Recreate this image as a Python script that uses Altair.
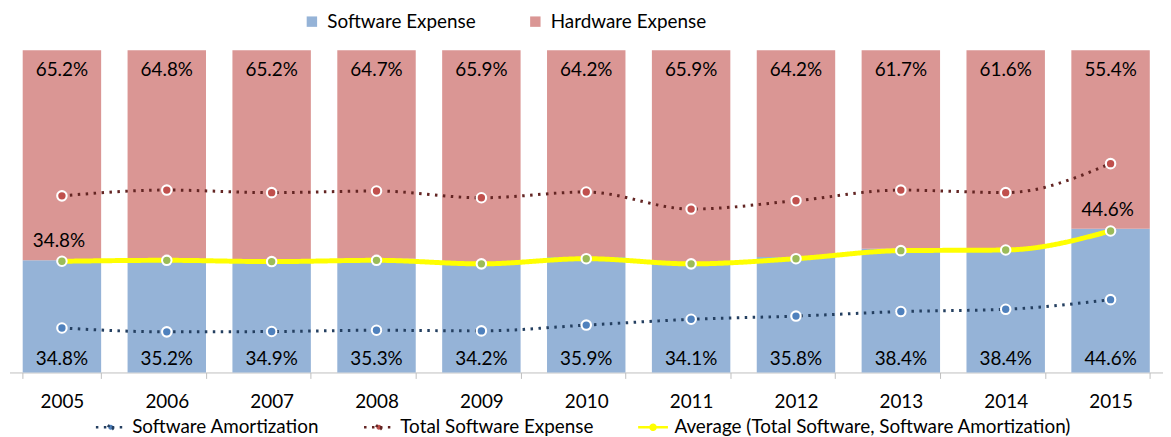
import altair as alt
import pandas as pd

# ---------------- data ----------------
years = [2005, 2006, 2007, 2008, 2009, 2010, 2011, 2012, 2013, 2014, 2015]
software_pct = [34.8, 35.2, 34.9, 35.3, 34.2, 35.9, 34.1, 35.8, 38.4, 38.4, 44.6]
hardware_pct = [65.2, 64.8, 65.2, 64.7, 65.9, 64.2, 65.9, 64.2, 61.7, 61.6, 55.4]

software_amortization = [0.138, 0.126, 0.127, 0.131, 0.129, 0.147, 0.165, 0.175, 0.189, 0.196, 0.226]
total_software_expense = [0.548, 0.566, 0.558, 0.563, 0.542, 0.560, 0.507, 0.533, 0.566, 0.558, 0.648]
average_series = [0.345, 0.348, 0.344, 0.348, 0.337, 0.353, 0.337, 0.353, 0.378, 0.380, 0.439]

highlight_years = [2005, 2015]

parts = ["Software Expense", "Hardware Expense"]
series = ["Software Amortization", "Total Software Expense",
          "Average (Total Software, Software Amortization)"]

SW_COLOR = "#95b3d7"
HW_COLOR = "#da9694"
LINE_COLORS = ["#243f60", "#632523", "#ffff00"]
POINT_COLORS = ["#4f81bd", "#c0504d", "#9bbb59"]
LINE_DASHES = [[2.5, 5.5], [2.5, 5.5], [1, 0]]
FONT = "Lato"
FS = 19

# ---------------- tables ----------------
bar_rows = []
for i, y in enumerate(years):
    bar_rows.append({"year": y, "part": parts[0], "value": software_pct[i], "ord": 0,
                     "label": f"{software_pct[i]:.1f}%"})
    bar_rows.append({"year": y, "part": parts[1], "value": hardware_pct[i], "ord": 1,
                     "label": f"{hardware_pct[i]:.1f}%"})
bars_df = pd.DataFrame(bar_rows)

line_rows = []
for name, vals in zip(series, [software_amortization, total_software_expense, average_series]):
    for y, v in zip(years, vals):
        line_rows.append({"year": y, "series": name, "value": v})
lines_df = pd.DataFrame(line_rows)

# ---------------- encodings ----------------
xband = alt.X(
    "year:O", title=None,
    scale=alt.Scale(paddingInner=0.252, paddingOuter=0.126),
    axis=alt.Axis(labelAngle=0, domainColor="#bfbfbf", tickColor="#bfbfbf", tickSize=6,
                  tickBand="extent", labelPadding=14, labelFont=FONT, labelFontSize=FS,
                  labelColor="#000000", grid=False),
)
yscale = alt.Scale(domain=[0, 1], nice=False)

top_leg = alt.Legend(orient="none", legendX=295, legendY=-38.5, direction="horizontal",
                     title=None, symbolType="square", symbolSize=110, symbolStrokeWidth=0,
                     labelFont=FONT, labelFontSize=FS, labelColor="#000000", labelOffset=6,
                     columnPadding=50, padding=0, labelLimit=0)

SYM = "M-1,0L1,0M0.17,0A0.17,0.17,0,1,1,-0.17,0A0.17,0.17,0,1,1,0.17,0Z"
bot_leg = alt.Legend(orient="none", legendX=85.5, legendY=363, direction="horizontal",
                     title=None, symbolType=SYM, symbolSize=900, symbolStrokeWidth=2.5,
                     labelFont=FONT, labelFontSize=FS, labelColor="#000000", labelOffset=5,
                     columnPadding=39, padding=0, labelLimit=0, symbolOpacity=1)

stroke_enc = alt.Stroke("series:N", scale=alt.Scale(domain=series, range=LINE_COLORS), legend=bot_leg)
dash_enc = alt.StrokeDash("series:N", scale=alt.Scale(domain=series, range=LINE_DASHES), legend=bot_leg)
ptcolor_enc = alt.Color("series:N", scale=alt.Scale(domain=series, range=POINT_COLORS), legend=bot_leg)

stacked = alt.Chart(bars_df).transform_stack(
    stack="value", groupby=["year"], as_=["v0", "v1"], offset="normalize",
    sort=[alt.SortField("ord", order="ascending")],
)

# ---------------- bars and labels ----------------
bars = stacked.mark_bar().encode(
    x=xband,
    y=alt.Y("v0:Q", scale=yscale, axis=None),
    y2="v1:Q",
    fill=alt.Fill("part:N", scale=alt.Scale(domain=parts, range=[SW_COLOR, HW_COLOR]), legend=top_leg),
)
hw_text = stacked.transform_filter(alt.datum.part == parts[1]).mark_text(
    font=FONT, fontSize=FS, color="#000000", baseline="middle", dy=20
).encode(x=xband, y=alt.Y("v1:Q", scale=yscale, axis=None), text="label:N")
sw_text = stacked.transform_filter(alt.datum.part == parts[0]).mark_text(
    font=FONT, fontSize=FS, color="#000000", baseline="middle", dy=-14
).encode(x=xband, y=alt.Y("v0:Q", scale=yscale, axis=None), text="label:N")
hl_text = stacked.transform_filter(alt.datum.part == parts[0]).transform_filter(
    alt.FieldOneOfPredicate(field="year", oneOf=highlight_years)
).mark_text(
    font=FONT, fontSize=FS, color="#000000", baseline="middle", dy=-19, dx=-3
).encode(x=xband, y=alt.Y("v1:Q", scale=yscale, axis=None), text="label:N")

# ---------------- lines and points ----------------
yline = alt.Y("value:Q", scale=yscale, axis=None)

def line_layer(name, width):
    return alt.Chart(lines_df).transform_filter(alt.datum.series == name).mark_line(
        interpolate="monotone", strokeWidth=width
    ).encode(x=xband, y=yline, stroke=stroke_enc, strokeDash=dash_enc)

line_amort = line_layer(series[0], 3)
line_total = line_layer(series[1], 3)
line_avg = line_layer(series[2], 5)

pt_white = alt.Chart(lines_df).mark_circle(size=135, color="white", opacity=1).encode(
    x=xband, y=yline)
pt_color = alt.Chart(lines_df).mark_circle(size=55, opacity=1).encode(
    x=xband, y=yline, color=ptcolor_enc)

chart = alt.layer(
    bars, hw_text, sw_text, hl_text, line_amort, line_total, line_avg, pt_white, pt_color
).properties(
    width=1161.5, height=324.5,
    autosize=alt.AutoSizeParams(type="none"),
    padding={"left": 1.5, "top": 41, "right": 0, "bottom": 64},
).configure_view(stroke=None)

chart.save("out.html", embed_options={"renderer": "svg", "actions": False})
